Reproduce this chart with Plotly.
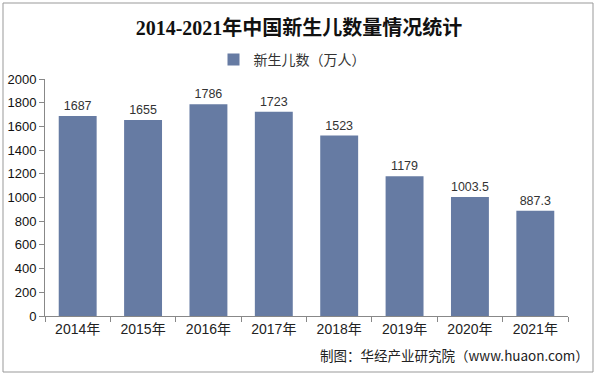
import plotly.graph_objects as go

categories = ["2014年", "2015年", "2016年", "2017年", "2018年", "2019年", "2020年", "2021年"]
births = [1687, 1655, 1786, 1723, 1523, 1179, 1003.5, 887.3]
labels = ["1687", "1655", "1786", "1723", "1523", "1179", "1003.5", "887.3"]
y_ticks = [0, 200, 400, 600, 800, 1000, 1200, 1400, 1600, 1800, 2000]

W, H = 598, 377
L, R, T, B = 45, 30, 79, 61
pw, ph = W - L - R, H - T - B

fig = go.Figure()
fig.add_trace(go.Bar(
    x=categories, y=births, name="新生儿数（万人）",
    marker=dict(color="#667ba3", line=dict(width=0)),
    width=0.58,
    text=labels, textposition="outside", cliponaxis=False,
    textfont=dict(family="Liberation Sans, Arial, sans-serif", size=12.5, color="#333333"),
))

fig.update_layout(
    width=W, height=H,
    margin=dict(l=L, r=R, t=T, b=B, autoexpand=False),
    paper_bgcolor="white", plot_bgcolor="white",
    title=dict(text="<b>2014-2021年中国新生儿数量情况统计</b>", x=0.5, xanchor="center",
               y=1 - 28 / H, yanchor="middle",
               font=dict(family="Liberation Serif, Noto Sans CJK SC, serif", size=20, color="#111111")),
    showlegend=True,
    legend=dict(orientation="h", x=(292 - L) / pw, xanchor="center", y=1 - 60 / H, yref="container",
                yanchor="middle",
                font=dict(family="Noto Sans CJK SC, sans-serif", size=14, color="#333333"),
                itemwidth=30),
    xaxis=dict(showline=True, linecolor="#888888", linewidth=1, automargin=False,
               ticks="outside", ticklen=5, tickcolor="#888888",
               tickson="boundaries",
               tickfont=dict(family="Liberation Sans, Noto Sans CJK SC, sans-serif", size=14, color="#222222")),
    yaxis=dict(range=[0, 2000], tickvals=y_ticks, showgrid=False, zeroline=False, automargin=False,
               showline=True, linecolor="#888888", linewidth=1,
               ticks="outside", ticklen=5, tickcolor="#888888",
               tickfont=dict(family="Liberation Sans, Arial, sans-serif", size=13, color="#111111")),
    bargap=0.42,
)

# outer border
fig.add_shape(type="rect", xref="paper", yref="paper",
              x0=(3 - L) / pw, x1=(593 - L) / pw,
              y0=1 - (372 - T) / ph, y1=1 - (3 - T) / ph,
              line=dict(color="#999999", width=1), fillcolor="rgba(0,0,0,0)", layer="below")

fig.add_annotation(text="制图：华经产业研究院（www.huaon.com）", xref="paper", yref="paper",
                   x=(591 - L) / pw, xanchor="right", y=1 - (355 - T) / ph, yanchor="middle",
                   showarrow=False,
                   font=dict(family="Noto Sans CJK SC, sans-serif", size=13.5, color="#222222"))

fig.write_html("out.html", config={"displayModeBar": False},
               post_script="document.body.style.margin='0';document.body.style.overflow='hidden';")
